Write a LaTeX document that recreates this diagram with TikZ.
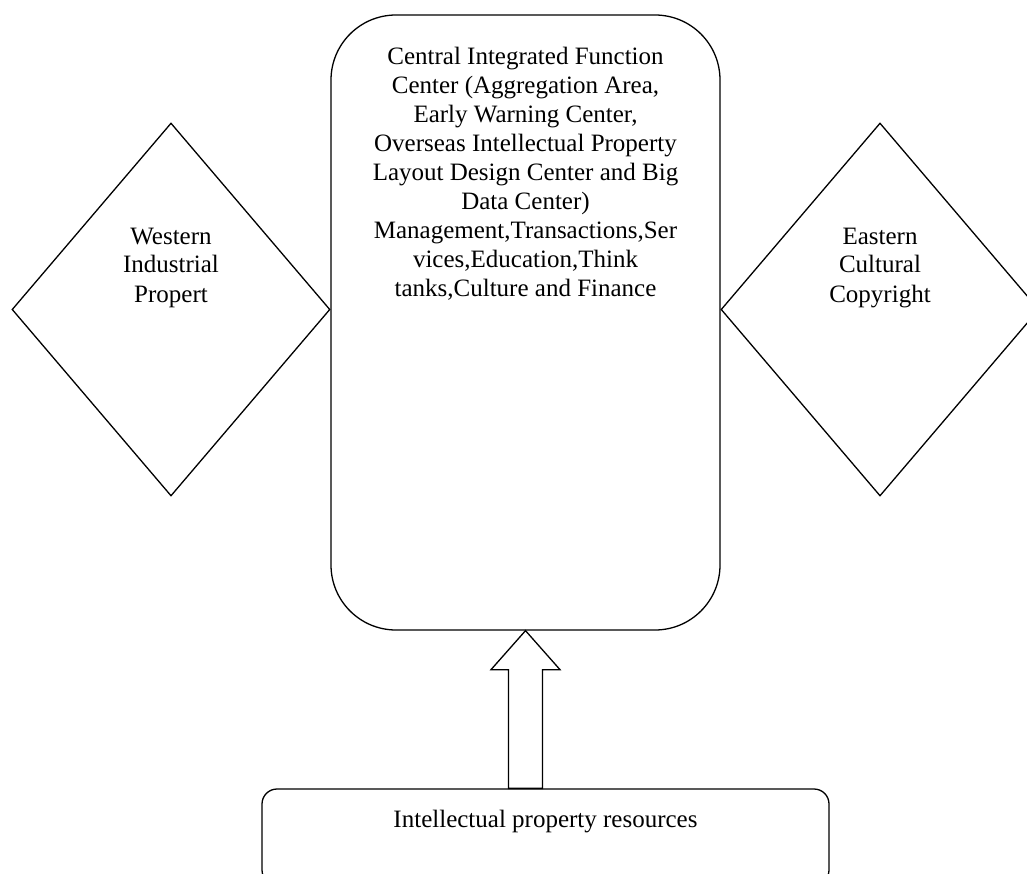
\documentclass[tikz,border=0pt]{standalone}
\usepackage{fontspec}
\setmainfont{Liberation Serif}
\usetikzlibrary{shapes.geometric,calc}
\begin{document}
\begin{tikzpicture}[x=1pt,y=-1pt,
  line/.style={draw=black,line width=1.3pt},
  txt/.style={font=\fontsize{25}{29}\selectfont,align=center,inner sep=0pt,anchor=base},
  cbox/.style={line,rounded corners=65pt,minimum width=389pt,minimum height=615pt,inner sep=0pt},
  dia/.style={line,diamond,minimum width=318pt,minimum height=373pt,inner sep=0pt},
  bbox/.style={line,rounded corners=15pt,minimum width=567pt,minimum height=96pt,inner sep=0pt}]
\clip (0,0) rectangle (1027,874);
\fill[white] (0,0) rectangle (1027,874);
% shapes
\node[cbox] (c) at (525.5,322.5) {};
\node[dia] (w) at (171,309.5) {};
\node[dia] (e) at (880,309.5) {};
\node[bbox] (b) at (545.5,837) {};
% texts (base anchor = baseline of the last line)
\node[txt] (ct) at (525.5,297) {Central Integrated Function\\Center (Aggregation Area,\\Early Warning Center,\\Overseas Intellectual Property\\Layout Design Center and Big\\Data Center)\\Management,Transactions,Ser\\vices,Education,Think\\tanks,Culture and Finance};
\node[txt] (wt) at (171,302) {Western\\Industrial\\Propert};
\node[txt] (et) at (880,302) {Eastern\\Cultural\\Copyright};
\node[txt] (bt) at (545.5,827) {Intellectual property resources};
% block arrow
\coordinate (tip) at (c.south);
\coordinate (sl) at ($(tip)+(-17,39)$);
\coordinate (sr) at ($(tip)+(17,39)$);
\draw[line,line join=miter] (tip) -- ($(tip)+(-34.5,39)$) -- (sl) -- (sl |- b.north) -- (sr |- b.north) -- (sr) -- ($(tip)+(34.5,39)$) -- cycle;
\end{tikzpicture}
\end{document}
